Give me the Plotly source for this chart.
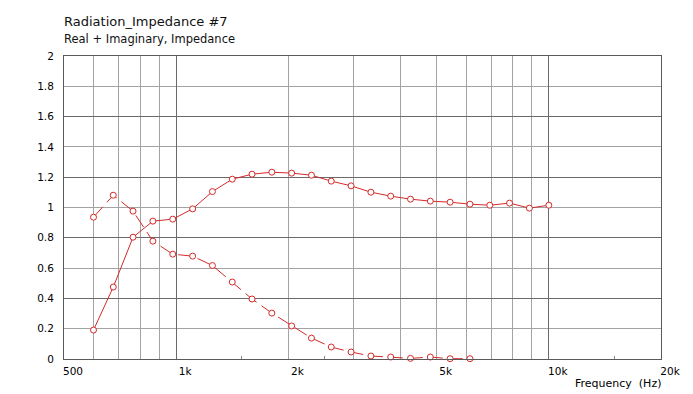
import plotly.graph_objects as go
import math

# ---- data ----
freq = [600, 678, 766, 866, 979, 1107, 1251, 1414, 1598, 1806, 2041, 2307,
        2607, 2947, 3331, 3764, 4254, 4808, 5434, 6142, 6942, 7846, 8868, 10000]
real_part = [0.191, 0.475, 0.804, 0.910, 0.923, 0.991, 1.105, 1.187, 1.220, 1.233,
             1.227, 1.213, 1.174, 1.143, 1.101, 1.075, 1.055, 1.042, 1.035, 1.022,
             1.015, 1.029, 0.996, 1.015]
imag_part = [0.936, 1.081, 0.976, 0.778, 0.692, 0.679, 0.617, 0.508, 0.396, 0.303,
             0.218, 0.138, 0.079, 0.046, 0.020, 0.013, 0.004, 0.013, 0.002, 0.002]

x_tick_vals = [500, 1000, 2000, 5000, 10000, 20000]
x_tick_text = ["500", "1k", "2k", "5k", "10k", "20k"]
x_grid_light = [600, 700, 800, 900, 2000, 3000, 4000, 5000, 6000, 7000, 8000, 9000]
x_grid_dark = [1000, 10000]
x_minor_ticks = [1500, 2500, 15000]

y_tick_vals = [0, 0.2, 0.4, 0.6, 0.8, 1.0, 1.2, 1.4, 1.6, 1.8, 2.0]
y_tick_text = ["0", "0.2", "0.4", "0.6", "0.8", "1", "1.2", "1.4", "1.6", "1.8", "2"]
y_grid_light = [0.2, 0.6, 1.0, 1.4, 1.8]
y_grid_dark = [0.4, 0.8, 1.2, 1.6]

RED = "#d42a2a"
LIGHT = "#a3a3a3"
DARK = "#6a6a6a"
FRAME = "#5a5a5a"
FONT = "DejaVu Sans"

fig = go.Figure()
# empty helper traces so the overlay grid axes get drawn
fig.add_trace(go.Scatter(x=[], y=[], xaxis="x2", yaxis="y2", showlegend=False, hoverinfo="skip"))
fig.add_trace(go.Scatter(x=[], y=[], xaxis="x3", yaxis="y3", showlegend=False, hoverinfo="skip"))

fig.add_trace(go.Scatter(
    x=freq, y=real_part, mode="lines+markers", cliponaxis=False,
    line=dict(color=RED, width=1),
    marker=dict(symbol="circle", size=6, color="white", line=dict(color=RED, width=1)),
    showlegend=False))
fig.add_trace(go.Scatter(
    x=freq[:len(imag_part)], y=imag_part, mode="lines+markers", cliponaxis=False,
    line=dict(color=RED, width=1, dash="14px,6px"),
    marker=dict(symbol="circle", size=6, color="white", line=dict(color=RED, width=1)),
    showlegend=False))

xr = [math.log10(500), math.log10(20000)]
common_x = dict(type="log", range=xr, zeroline=False, showline=False, ticks="")
common_y = dict(range=[0, 2], zeroline=False, showline=False, ticks="")

fig.update_layout(
    width=693, height=394,
    margin=dict(l=64, r=23, t=56, b=35),
    paper_bgcolor="white", plot_bgcolor="white",
    font=dict(family=FONT, size=10.5, color="#000"),
    xaxis=dict(type="log", range=xr, zeroline=False, tickmode="array",
               tickvals=x_tick_vals, ticktext=x_tick_text,
               showgrid=False, showline=True, mirror=True, linecolor=FRAME, linewidth=1,
               ticks="", ticklabelshift=9, ticklabelstandoff=2),
    yaxis=dict(range=[0, 2], zeroline=False, tickmode="array",
               tickvals=y_tick_vals, ticktext=y_tick_text,
               showgrid=False, showline=True, mirror=True, linecolor=FRAME, linewidth=1,
               ticks="", ticklabelstandoff=7),
    xaxis2=dict(**common_x, overlaying="x", anchor="y2", side="bottom", tickmode="array",
                tickvals=x_grid_light, showticklabels=False, showgrid=True,
                gridcolor=LIGHT, gridwidth=1,
                minor=dict(tickmode="array", tickvals=x_minor_ticks, ticks="inside",
                           ticklen=3, tickcolor="#888", tickwidth=1, showgrid=False)),
    yaxis2=dict(**common_y, overlaying="y", anchor="x2", tickmode="array",
                tickvals=y_grid_light, showticklabels=False, showgrid=True,
                gridcolor=LIGHT, gridwidth=1),
    xaxis3=dict(**common_x, overlaying="x", anchor="y3", tickmode="array",
                tickvals=x_grid_dark, showticklabels=False, showgrid=True,
                gridcolor=DARK, gridwidth=1),
    yaxis3=dict(**common_y, overlaying="y", anchor="x3", tickmode="array",
                tickvals=y_grid_dark, showticklabels=False, showgrid=True,
                gridcolor=DARK, gridwidth=1),
    annotations=[
        dict(text="Radiation_Impedance #7", xref="paper", yref="paper", x=0, y=1,
             xanchor="left", yanchor="middle", yshift=(56 - 21.5), xshift=-2, showarrow=False,
             font=dict(family=FONT, size=13, color="#111")),
        dict(text="Real + Imaginary, Impedance", xref="paper", yref="paper", x=0, y=1,
             xanchor="left", yanchor="middle", yshift=(56 - 39), xshift=-2, showarrow=False,
             font=dict(family=FONT, size=11.5, color="#111")),
        dict(text="Frequency  (Hz)", xref="paper", yref="paper", x=1, y=0,
             xanchor="right", yanchor="middle", yshift=-(383 - 359), xshift=2, showarrow=False,
             font=dict(family=FONT, size=11, color="#000")),
    ],
)

fig.write_html("out.html")
